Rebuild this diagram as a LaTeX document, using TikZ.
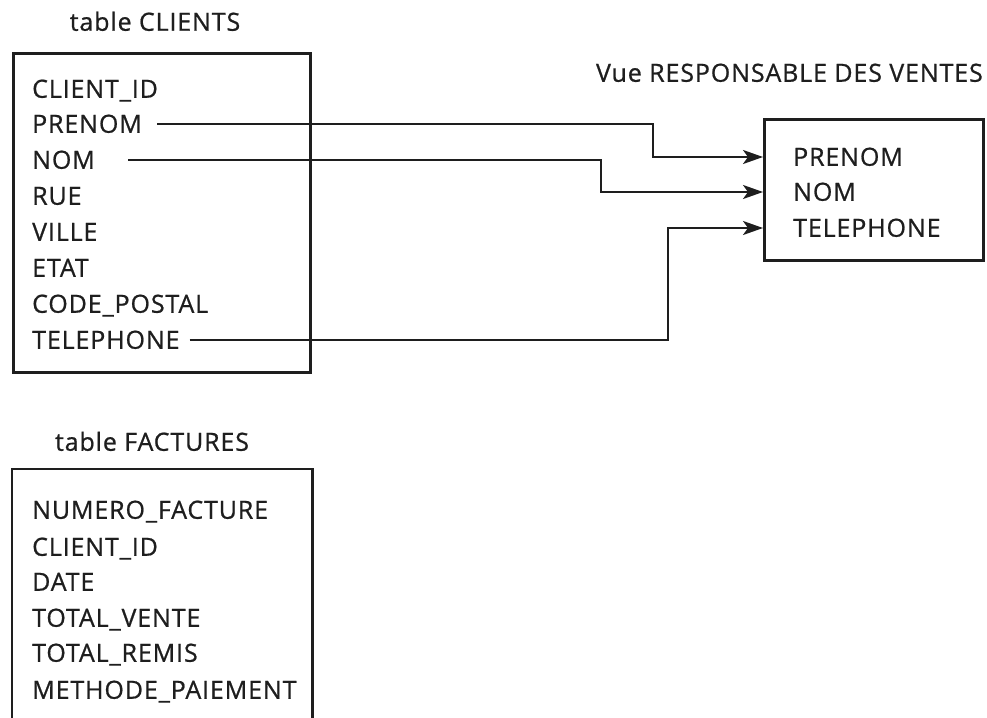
\documentclass[tikz,border=0pt]{standalone}
\usepackage{fontspec}
\setmainfont{Open Sans}[LetterSpace=3.5, FakeBold=0.7]
\usetikzlibrary{arrows.meta}
\definecolor{ink}{HTML}{1E1E1E}
\tikzset{
  field/.style={anchor=west, inner sep=0pt, text height=17.5pt, text depth=0pt, font=\fontsize{25}{28}\selectfont, text=ink},
  ttl/.style={inner sep=0pt, text height=17.5pt, text depth=0pt, font=\fontsize{25}{28}\selectfont, text=ink},
  tbl/.style={draw=ink, line width=2.8pt, inner sep=0pt, anchor=north west},
  conn/.style={draw=ink, line width=2.2pt, -{Stealth[length=20pt,width=14pt,inset=5pt]}},
}
\begin{document}
\begin{tikzpicture}[x=1pt,y=-1pt]
\useasboundingbox (0,0) rectangle (987,717);
\fill[white] (0,0) rectangle (987,717);

% table CLIENTS
\node[ttl] (tclients) at (155,22) {table CLIENTS};
\node[tbl, minimum width=297pt, minimum height=319pt] (clients) at (12,52) {};
\node[field] (cid) at (32,89) {CLIENT\_ID};
\node[field] (cprenom) at (32,124) {PRENOM};
\node[field] (cnom) at (32,160) {NOM};
\node[field] (crue) at (32,196) {RUE};
\node[field] (cville) at (32,232) {VILLE};
\node[field] (cetat) at (32,268) {ETAT};
\node[field] (ccp) at (32,304) {CODE\_POSTAL};
\node[field] (ctel) at (32,340) {TELEPHONE};

% Vue
\node[ttl, anchor=east] (tvue) at (983,73) {Vue RESPONSABLE DES VENTES};
\node[tbl, minimum width=219pt, minimum height=141pt] (vue) at (763,118) {};
\node[field] (vprenom) at (793,157) {PRENOM};
\node[field] (vnom) at (793,192) {NOM};
\node[field] (vtel) at (793,228) {TELEPHONE};

% bends
\coordinate (k1) at (653,0);
\coordinate (k2) at (601,0);
\coordinate (k3) at (668,0);
\draw[conn, shorten <=15pt] (cprenom.east) -| (k1 |- vprenom.west) -- (vue.west |- vprenom.west);
\draw[conn, shorten <=33pt] (cnom.east) -| (k2 |- vnom.west) -- (vue.west |- vnom.west);
\draw[conn, shorten <=10pt] (ctel.east) -| (k3 |- vtel.west) -- (vue.west |- vtel.west);

% table FACTURES
\node[ttl] (tfact) at (152,442) {table FACTURES};
\node[inner sep=0pt, minimum width=300pt, minimum height=250pt, anchor=north west] (fact) at (12,469) {};
\draw[draw=ink, line width=2.8pt] (fact.south west) |- (fact.north east) -- (fact.south east);
\node[field] (fnum) at (32,510) {NUMERO\_FACTURE};
\node[field] (fcid) at (32,547) {CLIENT\_ID};
\node[field] (fdate) at (32,582) {DATE};
\node[field] (ftv) at (32,618) {TOTAL\_VENTE};
\node[field] (ftr) at (32,653) {TOTAL\_REMIS};
\node[field] (fmp) at (32,690) {METHODE\_PAIEMENT};
\end{tikzpicture}
\end{document}
